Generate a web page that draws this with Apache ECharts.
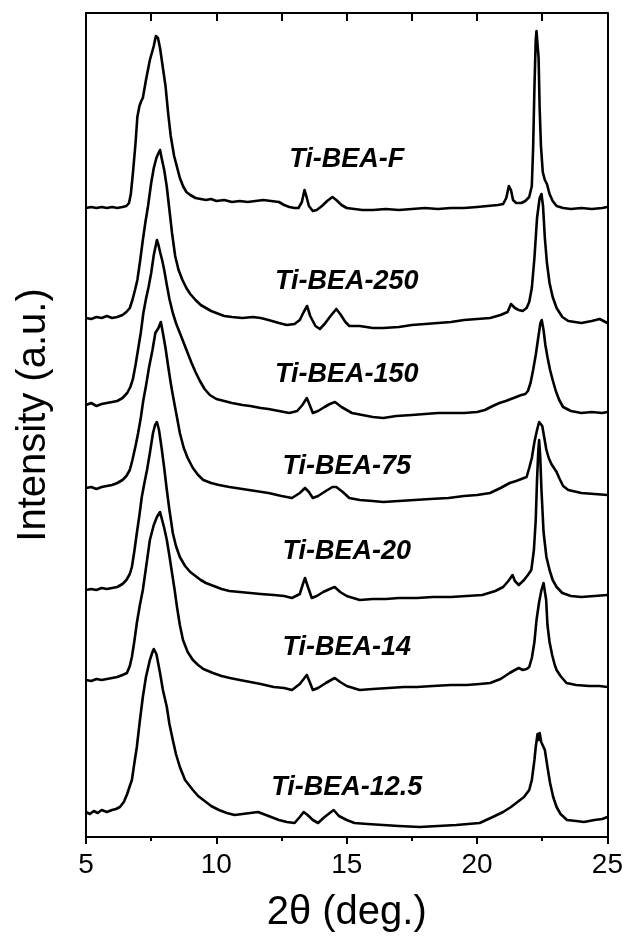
<!DOCTYPE html>
<html>
<head>
<meta charset="utf-8">
<title>XRD patterns of Ti-BEA samples</title>
<script src="https://cdn.jsdelivr.net/npm/echarts@6/dist/echarts.min.js"></script>
<style>
  html, body { margin: 0; padding: 0; background: #fff; }
  #chart { width: 626px; height: 950px; }
</style>
</head>
<body>
<div id="chart"></div>
<script>
// Sample names, top to bottom
const sampleNames = ['Ti-BEA-F', 'Ti-BEA-250', 'Ti-BEA-150', 'Ti-BEA-75', 'Ti-BEA-20', 'Ti-BEA-14', 'Ti-BEA-12.5'];

// Vertical stacking offset of each pattern (a.u.)
const stackOffsets = [629, 519, 432, 349, 247, 157, 25];

// Where each sample name sits: [2θ, a.u.]
const nameAnchors = [[15, 677], [15, 555], [15, 462], [15, 370], [15, 285], [15, 189], [15, 49]];

// Bottom axis tick labels
const xTicks = [5, 10, 15, 20, 25];

// Diffraction patterns: [2θ (deg.), intensity above baseline (a.u.)]
const patternF = [
  [5.0,0],[5.2,1],[5.4,0],[5.6,1],[5.8,0],[6.0,1],[6.2,0],[6.4,1],[6.55,2],[6.65,5],[6.72,14],[6.8,35],[6.9,65],
  [6.97,91],[7.05,102],[7.12,107],[7.18,110],[7.3,128],[7.45,148],[7.6,162],[7.68,172],[7.72,174],[7.76,170],
  [7.84,160],[7.95,140],[8.05,122],[8.15,95],[8.25,72],[8.38,52],[8.5,40],[8.6,30],[8.72,22],[8.85,16],[9.0,13],
  [9.2,10],[9.4,9],[9.6,8],[9.8,9],[10.0,7],[10.3,8],[10.6,6],[10.9,7],[11.2,6],[11.5,7],[11.8,8],[12.1,7],[12.4,6],
  [12.6,3],[12.8,1],[13.0,0],[13.15,0],[13.28,6],[13.38,18],[13.45,12],[13.55,2],[13.7,-3],[13.85,-2],[14.05,2],
  [14.25,7],[14.45,11],[14.6,8],[14.8,3],[15.0,0],[15.3,-1],[15.6,-2],[16.0,-2],[16.5,-1],[17.0,-2],[17.5,-1],
  [18.0,0],[18.5,-1],[19.0,0],[19.5,0],[20.0,1],[20.4,2],[20.8,3],[21.0,4],[21.12,10],[21.22,22],[21.3,18],
  [21.38,8],[21.5,5],[21.7,5],[21.85,7],[22.0,11],[22.1,22],[22.15,60],[22.2,120],[22.25,168],[22.28,177],
  [22.32,176],[22.36,150],[22.4,100],[22.45,62],[22.52,36],[22.6,28],[22.68,24],[22.78,14],[22.9,7],[23.05,2],
  [23.3,0],[23.6,-1],[24.0,0],[24.4,-1],[24.8,0],[25.0,1]
];

const pattern250 = [
  [5.0,0],[5.2,-1],[5.4,1],[5.6,0],[5.8,2],[6.0,0],[6.2,1],[6.4,3],[6.55,6],[6.68,10],[6.78,18],[6.88,28],[6.97,38],
  [7.08,58],[7.18,78],[7.28,96],[7.38,112],[7.5,135],[7.6,150],[7.7,160],[7.78,165],[7.84,168],[7.9,160],[8.0,148],
  [8.1,131],[8.2,108],[8.3,85],[8.42,62],[8.55,48],[8.7,38],[8.85,30],[9.0,24],[9.2,18],[9.4,13],[9.6,10],[9.8,7],
  [10.0,5],[10.3,2],[10.6,1],[11.0,0],[11.4,1],[11.7,0],[12.0,-2],[12.4,-5],[12.7,-7],[13.0,-6],[13.2,-2],[13.35,6],
  [13.48,12],[13.6,2],[13.8,-8],[13.97,-11],[14.15,-6],[14.35,1],[14.6,9],[14.75,4],[14.95,-4],[15.1,-8],[15.5,-8],
  [16.0,-10],[16.4,-10],[17.0,-9],[17.5,-7],[18.0,-6],[18.5,-5],[19.0,-4],[19.5,-2],[20.0,-1],[20.5,0],[20.9,3],
  [21.17,6],[21.3,14],[21.36,15],[21.45,10],[21.6,8],[21.75,7],[21.9,10],[22.0,16],[22.1,30],[22.2,60],[22.3,100],
  [22.4,120],[22.47,124],[22.53,112],[22.6,80],[22.68,55],[22.78,35],[22.9,21],[23.05,10],[23.27,1],[23.5,-3],
  [24.0,-5],[24.4,-3],[24.7,-1],[25.0,-5]
];

const pattern150 = [
  [5.0,0],[5.2,2],[5.4,-1],[5.6,1],[5.8,2],[6.0,3],[6.2,4],[6.4,7],[6.58,12],[6.7,18],[6.8,26],[6.9,40],[7.0,56],
  [7.1,72],[7.2,92],[7.3,106],[7.4,118],[7.5,132],[7.6,150],[7.68,160],[7.72,165],[7.78,160],[7.85,152],[7.92,145],
  [8.0,135],[8.1,120],[8.2,106],[8.33,92],[8.45,82],[8.6,72],[8.75,62],[8.9,52],[9.05,42],[9.2,33],[9.37,24],
  [9.55,16],[9.75,10],[10.0,6],[10.3,4],[10.6,2],[11.0,0],[11.3,-1],[11.7,-3],[12.0,-4],[12.4,-6],[12.8,-8],
  [13.1,-6],[13.3,0],[13.47,7],[13.58,0],[13.7,-8],[13.9,-6],[14.15,-2],[14.35,1],[14.55,3],[14.8,-2],[15.0,-5],
  [15.2,-8],[15.6,-10],[16.0,-12],[16.4,-13],[16.9,-11],[17.5,-10],[18.0,-9],[18.5,-8],[19.0,-8],[19.5,-8],
  [20.0,-7],[20.3,-5],[20.6,-1],[20.86,2],[21.1,4],[21.3,6],[21.5,8],[21.7,10],[21.85,11],[21.95,14],[22.05,22],
  [22.15,35],[22.25,50],[22.35,68],[22.43,82],[22.48,85],[22.55,75],[22.62,60],[22.7,48],[22.8,35],[22.9,25],
  [23.02,14],[23.15,5],[23.3,-2],[23.6,-6],[24.0,-8],[24.4,-7],[24.8,-8],[25.0,-7]
];

const pattern75 = [
  [5.0,0],[5.2,1],[5.4,-1],[5.6,1],[5.8,2],[6.0,3],[6.2,5],[6.4,8],[6.55,12],[6.68,18],[6.78,28],[6.9,42],[7.0,55],
  [7.1,70],[7.2,88],[7.3,102],[7.42,121],[7.55,138],[7.66,155],[7.78,160],[7.87,166],[7.95,155],[8.05,140],
  [8.15,122],[8.25,105],[8.35,90],[8.48,72],[8.6,55],[8.75,40],[8.9,30],[9.1,20],[9.3,13],[9.5,8],[9.8,5],[10.1,3],
  [10.5,1],[11.0,-1],[11.5,-3],[12.0,-5],[12.5,-8],[12.9,-10],[13.2,-5],[13.4,0],[13.55,-4],[13.7,-10],[13.9,-8],
  [14.2,-3],[14.45,1],[14.6,1],[14.85,-4],[15.1,-10],[15.5,-12],[16.0,-13],[16.4,-14],[17.0,-13],[17.6,-12],
  [18.2,-11],[18.9,-10],[19.5,-8],[20.0,-7],[20.5,-5],[20.9,0],[21.25,5],[21.5,7],[21.7,9],[21.9,11],[22.0,20],
  [22.1,30],[22.2,46],[22.3,58],[22.38,66],[22.43,68],[22.5,62],[22.58,50],[22.66,38],[22.75,30],[22.85,24],
  [22.95,20],[23.05,16],[23.15,10],[23.3,2],[23.5,-2],[24.0,-5],[24.5,-6],[25.0,-7]
];

const pattern20 = [
  [5.0,0],[5.2,1],[5.4,0],[5.6,2],[5.8,1],[6.0,2],[6.2,3],[6.4,6],[6.55,10],[6.68,16],[6.76,23],[6.85,38],[6.95,57],
  [7.05,75],[7.14,93],[7.24,107],[7.34,120],[7.45,137],[7.57,157],[7.65,165],[7.72,168],[7.8,160],[7.9,142],
  [8.0,122],[8.1,100],[8.2,80],[8.33,57],[8.45,44],[8.6,33],[8.8,24],[9.0,18],[9.2,14],[9.4,10],[9.6,7],[9.9,4],
  [10.2,1],[10.5,-1],[10.9,-2],[11.3,-3],[11.7,-4],[12.2,-5],[12.6,-6],[12.9,-8],[13.2,-4],[13.32,6],[13.4,12],
  [13.5,4],[13.66,-8],[13.85,-6],[14.1,-2],[14.35,1],[14.54,3],[14.75,-2],[15.0,-6],[15.5,-10],[16.0,-9],[16.5,-9],
  [17.0,-8],[17.7,-8],[18.3,-7],[19.0,-7],[19.6,-6],[20.2,-5],[20.7,-1],[21.0,3],[21.2,9],[21.36,15],[21.45,9],
  [21.6,5],[21.8,10],[21.95,15],[22.08,20],[22.18,40],[22.25,70],[22.3,110],[22.35,140],[22.38,150],[22.42,135],
  [22.47,100],[22.55,58],[22.66,33],[22.78,20],[22.9,10],[23.05,3],[23.27,-3],[23.6,-6],[24.0,-7],[24.5,-6],
  [25.0,-5]
];

const pattern14 = [
  [5.0,0],[5.2,-1],[5.4,1],[5.6,0],[5.8,1],[6.0,2],[6.2,3],[6.4,5],[6.57,7],[6.68,14],[6.76,23],[6.85,38],[6.95,57],
  [7.06,74],[7.18,90],[7.3,112],[7.45,140],[7.6,155],[7.72,163],[7.84,168],[7.92,160],[8.0,152],[8.1,140],
  [8.2,124],[8.3,107],[8.4,90],[8.49,73],[8.6,55],[8.72,40],[8.9,28],[9.1,20],[9.3,15],[9.5,11],[9.87,7],[10.2,4],
  [10.52,2],[10.9,0],[11.3,-2],[11.7,-4],[12.2,-7],[12.6,-8],[12.9,-10],[13.2,-4],[13.38,2],[13.47,5],[13.58,-2],
  [13.7,-10],[13.9,-8],[14.2,-3],[14.4,0],[14.54,2],[14.75,-2],[15.0,-6],[15.5,-10],[16.0,-9],[16.6,-8],[17.2,-7],
  [17.7,-7],[18.3,-6],[19.0,-5],[19.6,-5],[20.1,-4],[20.5,-3],[20.9,1],[21.25,7],[21.45,10],[21.6,12],[21.75,10],
  [21.9,11],[22.0,13],[22.1,22],[22.2,38],[22.28,60],[22.38,78],[22.47,90],[22.55,97],[22.6,99],[22.65,80],
  [22.7,55],[22.78,38],[22.88,25],[22.98,15],[23.05,10],[23.2,4],[23.43,-3],[23.8,-5],[24.3,-6],[24.7,-6],[25.0,-7]
];

const pattern12p5 = [
  [5.0,0],[5.15,-2],[5.3,1],[5.45,-1],[5.6,2],[5.8,0],[6.0,2],[6.15,3],[6.3,5],[6.45,10],[6.58,18],[6.68,26],
  [6.76,32],[6.85,48],[6.95,65],[7.06,90],[7.18,115],[7.3,135],[7.45,152],[7.55,160],[7.6,163],[7.64,165],
  [7.7,158],[7.76,150],[7.84,139],[7.95,122],[8.1,105],[8.2,88],[8.33,72],[8.45,58],[8.6,45],[8.8,32],[9.1,22],
  [9.3,16],[9.5,12],[9.8,6],[10.1,2],[10.4,-1],[10.7,-3],[11.0,-2],[11.3,-1],[11.6,0],[11.9,-3],[12.2,-6],[12.4,-8],
  [12.7,-10],[13.0,-11],[13.2,-5],[13.35,0],[13.5,-3],[13.7,-8],[13.9,-11],[14.15,-5],[14.35,-1],[14.5,2],
  [14.7,-4],[15.0,-8],[15.3,-11],[15.8,-12],[16.4,-13],[17.0,-14],[17.8,-15],[18.5,-14],[19.2,-13],[20.1,-11],
  [20.6,-5],[21.0,0],[21.3,5],[21.55,10],[21.8,15],[22.0,22],[22.1,32],[22.2,52],[22.25,65],[22.32,78],[22.36,72],
  [22.4,79],[22.46,70],[22.52,72],[22.6,62],[22.7,45],[22.8,29],[22.92,15],[23.05,5],[23.2,-2],[23.45,-8],
  [23.8,-9],[24.1,-10],[24.5,-8],[24.8,-7],[25.0,-5]
];

const patterns = [patternF, pattern250, pattern150, pattern75, pattern20, pattern14, pattern12p5];

const FONT = "'Liberation Sans', Arial, Helvetica, sans-serif";
const INK = '#000';

const chart = echarts.init(document.getElementById('chart'), null, { renderer: 'canvas' });

const lineSeries = patterns.map((pts, i) => ({
  name: sampleNames[i],
  type: 'line',
  xAxisIndex: 0,
  yAxisIndex: 0,
  data: pts.map(([tt, v]) => [tt, v + stackOffsets[i]]),
  showSymbol: false,
  symbol: 'none',
  smooth: false,
  lineStyle: { color: INK, width: 2.6, join: 'round' },
  silent: true,
  z: 3
}));

chart.setOption({
  animation: false,
  backgroundColor: '#fff',
  grid: { left: 86, right: 18, top: 13, bottom: 113, containLabel: false },
  xAxis: [
    {
      type: 'value',
      position: 'bottom',
      min: xTicks[0],
      max: xTicks[xTicks.length - 1],
      interval: 5,
      name: '2θ (deg.)',
      nameLocation: 'middle',
      nameGap: 56,
      nameTextStyle: { fontFamily: FONT, fontSize: 40, color: INK },
      axisLine: { show: true, onZero: false, lineStyle: { color: INK, width: 2 } },
      axisTick: { show: true, inside: false, length: 7, lineStyle: { color: INK, width: 2 } },
      minorTick: { show: true, splitNumber: 2, length: 4, lineStyle: { color: INK, width: 2 } },
      axisLabel: { show: true, margin: 14, fontFamily: FONT, fontSize: 28, color: INK,
                   formatter: (v) => (xTicks.includes(v) ? String(v) : '') },
      splitLine: { show: false },
      minorSplitLine: { show: false }
    },
    {
      type: 'value',
      position: 'top',
      min: 5,
      max: 25,
      interval: 2.5,
      axisLine: { show: true, onZero: false, lineStyle: { color: INK, width: 2 } },
      axisTick: { show: true, inside: true, length: 8, lineStyle: { color: INK, width: 2 } },
      axisLabel: { show: false },
      splitLine: { show: false }
    }
  ],
  yAxis: [
    {
      type: 'value',
      position: 'left',
      min: 0,
      max: 824,
      name: 'Intensity (a.u.)',
      nameLocation: 'middle',
      nameGap: 32,
      nameRotate: 90,
      nameTextStyle: { fontFamily: FONT, fontSize: 40, color: INK, padding: [0, 0, 0, 20] },
      axisLine: { show: true, onZero: false, lineStyle: { color: INK, width: 2 } },
      axisTick: { show: false },
      axisLabel: { show: false },
      splitLine: { show: false }
    },
    {
      type: 'value',
      position: 'right',
      min: 0,
      max: 824,
      axisLine: { show: true, onZero: false, lineStyle: { color: INK, width: 2 } },
      axisTick: { show: false },
      axisLabel: { show: false },
      splitLine: { show: false }
    }
  ],
  series: lineSeries
});

// Sample names placed at their data anchors
chart.setOption({
  graphic: nameAnchors.map((p, i) => {
    const [px, py] = chart.convertToPixel({ xAxisIndex: 0, yAxisIndex: 0 }, p);
    return {
      type: 'text',
      x: px,
      y: py,
      z: 10,
      silent: true,
      style: {
        text: sampleNames[i],
        fill: INK,
        font: "italic bold 27px " + FONT,
        textAlign: 'center',
        textVerticalAlign: 'middle'
      }
    };
  })
});
</script>
</body>
</html>
